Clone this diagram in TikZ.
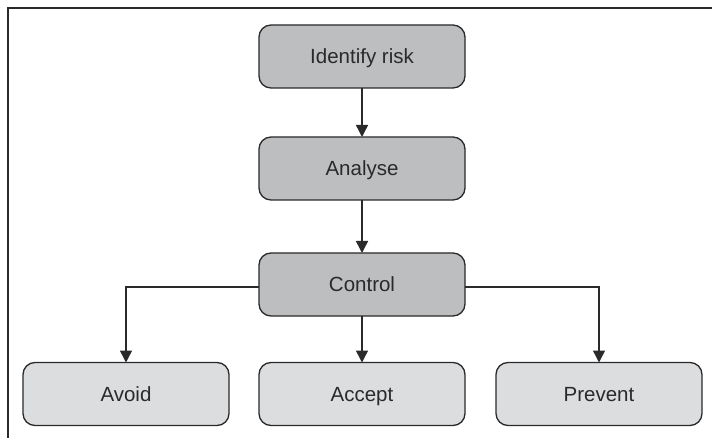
\documentclass[tikz,border=0pt]{standalone}
\usepackage{fontspec}
\setmainfont{Liberation Sans}
\usetikzlibrary{arrows.meta}
\definecolor{boxdark}{HTML}{BDBEC0}
\definecolor{boxlight}{HTML}{DCDDDF}
\definecolor{ink}{HTML}{2A2A2A}
\tikzset{
  stage/.style={draw=ink, line width=1.3pt, rounded corners=12pt,
    minimum width=206pt, minimum height=63pt, inner sep=0pt, outer sep=0pt,
    text height=14.7pt, text depth=0pt,
    font=\fontsize{20.5}{24}\selectfont, text=ink},
  upper/.style={stage, fill=boxdark},
  lower/.style={stage, fill=boxlight},
  link/.style={draw=ink, line width=1.4pt,
    -{Triangle[length=12pt,width=12pt]}},
}
\begin{document}
\begin{tikzpicture}[x=1pt,y=-1pt]
  \useasboundingbox (0,0) rectangle (712,438);
  % outer frame (top and left edges)
  \draw[ink, line width=1.5pt] (712,8) -- (8,8) -- (8,438);

  \node[upper] (identify) at (362,56.5) {Identify risk};
  \node[upper] (analyse)  at (362,168.5) {Analyse};
  \node[upper] (control)  at (362,284.5) {Control};
  \node[lower] (avoid)    at (126,394) {Avoid};
  \node[lower] (accept)   at (362,394) {Accept};
  \node[lower] (prevent)  at (599,394) {Prevent};

  \draw[link] (identify) -- (analyse);
  \draw[link] (analyse) -- (control);
  \draw[link] ([yshift=-2.5pt]control.west) -| (avoid.north);
  \draw[link] (control) -- (accept);
  \draw[link] ([yshift=-2.5pt]control.east) -| (prevent.north);
\end{tikzpicture}
\end{document}
